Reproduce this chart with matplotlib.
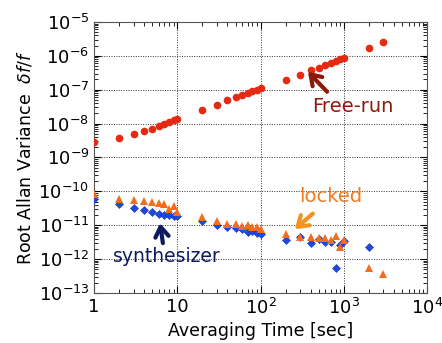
import matplotlib
matplotlib.use("Agg")
import matplotlib.pyplot as plt
import numpy as np

tau = [1, 2, 3, 4, 5, 6, 7, 8, 9, 10,
       20, 30, 40, 50, 60, 70, 80, 90, 100,
       200, 300, 400, 500, 600, 700, 800, 900, 1000]
tau_ext = tau + [2000, 3000]

free_run = [2.8e-9, 3.8e-9, 5.0e-9, 5.9e-9, 7.1e-9, 8.7e-9, 1.0e-8, 1.12e-8, 1.26e-8, 1.38e-8,
            2.5e-8, 3.6e-8, 5.0e-8, 6.0e-8, 7.2e-8, 8.1e-8, 9.3e-8, 1.0e-7, 1.12e-7,
            1.9e-7, 2.7e-7, 3.7e-7, 4.5e-7, 5.5e-7, 6.2e-7, 7.1e-7, 7.9e-7, 8.9e-7,
            1.7e-6, 2.6e-6]

locked = [8.1e-11, 5.8e-11, 5.5e-11, 5.2e-11, 4.9e-11, 4.5e-11, 4.3e-11, 3.0e-11, 3.6e-11, 2.5e-11,
          1.7e-11, 1.3e-11, 1.12e-11, 1.05e-11, 9.5e-12, 1.0e-11, 8.9e-12, 8.7e-12, 7.6e-12,
          5.6e-12, 4.6e-12, 4.5e-12, 4.3e-12, 4.3e-12, 3.6e-12, 4.9e-12, 2.2e-12, 3.7e-12,
          5.4e-13, 3.6e-13]

tau_syn = tau + [2000]
synth = [5.8e-11, 4.2e-11, 3.2e-11, 2.9e-11, 2.5e-11, 2.2e-11, 2.0e-11, 1.95e-11, 1.85e-11, 1.85e-11,
         1.3e-11, 9.8e-12, 8.9e-12, 8.3e-12, 7.6e-12, 6.5e-12, 6.9e-12, 6.0e-12, 5.5e-12,
         3.6e-12, 4.5e-12, 2.9e-12, 3.9e-12, 3.2e-12, 3.2e-12, 5.4e-13, 2.6e-12, 3.5e-12,
         2.2e-12]

fig = plt.figure(figsize=(4.42, 3.43), dpi=100)
ax = fig.add_axes([0.213, 0.146, 0.753, 0.790])

ax.plot(tau_ext, free_run, 'o', color='#e52a12', markersize=5.5, markeredgewidth=0, zorder=3)
ax.plot(tau_syn, synth, 'D', color='#1f48e0', markersize=3.8, markeredgecolor='#1030b0',
        markeredgewidth=0.4, zorder=3)
ax.plot(tau_ext, locked, '^', color='#f26d1d', markersize=6, markeredgewidth=0, zorder=4)

ax.set_xscale('log')
ax.set_yscale('log')
ax.set_xlim(1, 1e4)
ax.set_ylim(1e-13, 1e-5)

ax.grid(True, which='major', linestyle=(0, (1, 1.5)), color='#333333', linewidth=0.7)
ax.tick_params(which='both', direction='in', top=True, right=True)
ax.tick_params(which='major', length=5, labelsize=13)
ax.tick_params(which='minor', length=3)
ax.set_xticks([1, 10, 100, 1000, 10000])
ax.set_xticklabels(['1', '10', r'$10^2$', r'$10^3$', r'$10^4$'])
yt = [10.0**k for k in range(-13, -4)]
ax.set_yticks(yt)
ax.set_yticklabels([r'$10^{%d}$' % k for k in range(-13, -4)])
ax.yaxis.set_minor_locator(matplotlib.ticker.LogLocator(base=10, subs=np.arange(2, 10), numticks=20))
ax.xaxis.set_minor_locator(matplotlib.ticker.LogLocator(base=10, subs=np.arange(2, 10), numticks=20))
ax.yaxis.set_minor_formatter(matplotlib.ticker.NullFormatter())
ax.xaxis.set_minor_formatter(matplotlib.ticker.NullFormatter())
for s in ax.spines.values():
    s.set_color('#555555')

ax.set_xlabel('Averaging Time [sec]', fontsize=12.5, labelpad=3)
ax.set_ylabel(r'Root Allan Variance  $\delta f/f$', fontsize=12.5, labelpad=3)

astyle = '->,head_length=0.45,head_width=0.3'
ax.text(1290, 3.2e-8, 'Free-run', color='#8b1a0a', fontsize=14, ha='center', va='center')
ax.annotate('', xy=(371, 3.4e-7), xytext=(630, 8.7e-8),
            arrowprops=dict(arrowstyle=astyle, color='#8b1a0a', lw=3, mutation_scale=16,
                            shrinkA=0, shrinkB=0))
ax.text(700, 7e-11, 'locked', color='#f07a1e', fontsize=14, ha='center', va='center')
ax.annotate('', xy=(258, 7.6e-12), xytext=(425, 2.2e-11),
            arrowprops=dict(arrowstyle=astyle, color='#f5921e', lw=3, mutation_scale=16,
                            shrinkA=0, shrinkB=0))
ax.text(7.5, 1.15e-12, 'synthesizer', color='#0d1b5e', fontsize=13.5, ha='center', va='center')
ax.annotate('', xy=(6.2, 1.15e-11), xytext=(6.7, 2.95e-12),
            arrowprops=dict(arrowstyle=astyle, color='#0d1b5e', lw=3, mutation_scale=16,
                            shrinkA=0, shrinkB=0))

fig.savefig('out.png', dpi=100)
